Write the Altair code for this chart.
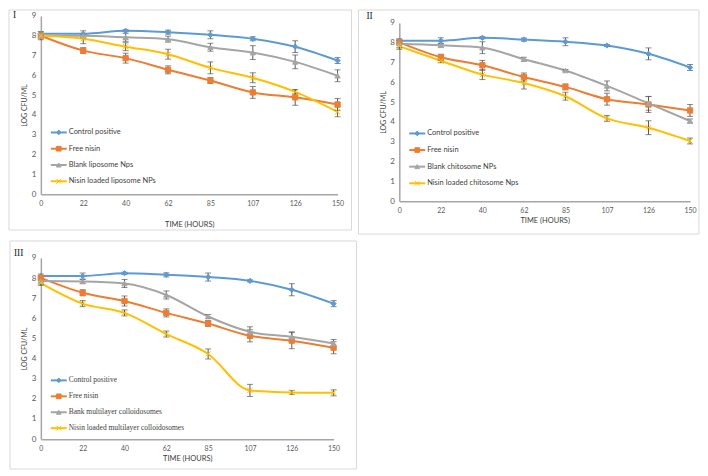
import altair as alt
import pandas as pd

HOURS = ["0", "22", "40", "62", "85", "107", "126", "150"]
KEYS = ["a", "b", "c", "d"]
COLORS = ["#5B9BD5", "#ED7D31", "#A5A5A5", "#FFC000"]
SHAPES = ["diamond", "square", "triangle-up", "M-1,-1L1,1M-1,1L1,-1"]

# Panel I
I_NAMES = ["Control positive", "Free nisin", "Blank liposome Nps", "Nisin loaded liposome NPs"]
I_CONTROL = [8.1, 8.1, 8.25, 8.18, 8.05, 7.85, 7.45, 6.75]
I_CONTROL_ERR = [0.1, 0.15, 0.05, 0.1, 0.2, 0.1, 0.3, 0.15]
I_FREE = [8.0, 7.25, 6.87, 6.28, 5.74, 5.14, 4.89, 4.53]
I_FREE_ERR = [0.1, 0.15, 0.25, 0.2, 0.15, 0.3, 0.4, 0.3]
I_BLANK = [8.0, 8.0, 7.92, 7.83, 7.42, 7.15, 6.68, 5.98]
I_BLANK_ERR = [0.2, 0.1, 0.2, 0.15, 0.2, 0.35, 0.35, 0.3]
I_LOADED = [8.0, 7.85, 7.45, 7.07, 6.38, 5.88, 5.17, 4.16]
I_LOADED_ERR = [0.1, 0.25, 0.2, 0.25, 0.3, 0.25, 0.1, 0.25]

# Panel II
II_NAMES = ["Control positive", "Free nisin", "Blank chitosome NPs", "Nisin loaded chitosome Nps"]
II_CONTROL = [8.1, 8.1, 8.25, 8.16, 8.05, 7.86, 7.44, 6.75]
II_CONTROL_ERR = [0.1, 0.15, 0.05, 0.08, 0.2, 0.05, 0.3, 0.15]
II_FREE = [8.02, 7.27, 6.86, 6.27, 5.77, 5.15, 4.88, 4.58]
II_FREE_ERR = [0.1, 0.15, 0.25, 0.2, 0.15, 0.3, 0.4, 0.3]
II_BLANK = [7.95, 7.87, 7.75, 7.17, 6.6, 5.82, 4.94, 4.05]
II_BLANK_ERR = [0.2, 0.1, 0.3, 0.1, 0.05, 0.25, 0.35, 0.1]
II_LOADED = [7.82, 7.09, 6.39, 5.97, 5.3, 4.18, 3.71, 3.04]
II_LOADED_ERR = [0.15, 0.1, 0.25, 0.3, 0.2, 0.15, 0.35, 0.15]

# Panel III
III_NAMES = ["Control positive", "Free nisin", "Bank multilayer colloidosomes", "Nisin loaded multilayer colloidosomes"]
III_CONTROL = [8.1, 8.1, 8.24, 8.16, 8.05, 7.86, 7.42, 6.73]
III_CONTROL_ERR = [0.1, 0.15, 0.05, 0.1, 0.2, 0.05, 0.3, 0.15]
III_FREE = [8.01, 7.27, 6.86, 6.27, 5.74, 5.13, 4.89, 4.54]
III_FREE_ERR = [0.1, 0.15, 0.25, 0.2, 0.15, 0.3, 0.4, 0.3]
III_BLANK = [7.85, 7.83, 7.73, 7.16, 6.09, 5.33, 5.08, 4.75]
III_BLANK_ERR = [0.2, 0.1, 0.2, 0.2, 0.1, 0.25, 0.25, 0.2]
III_LOADED = [7.75, 6.73, 6.27, 5.22, 4.23, 2.42, 2.32, 2.3]
III_LOADED_ERR = [0.1, 0.15, 0.15, 0.15, 0.25, 0.3, 0.1, 0.15]

SANS = "Lato"
SERIF = "Liberation Serif"
AXIS_GRAY = "#a6a6a6"
TEXT_GRAY = "#595959"
ERR_GRAY = "#595959"


def panel(numeral, names, vals, errs, L, T, W, H, R, B, top_pad, leg_top, leg_bottom,
          legend_font, xtitle_y, num_x, num_y):
    rows = []
    for k, name, v, e in zip(KEYS, names, vals, errs):
        for h, vv, ee in zip(HOURS, v, e):
            rows.append({"hour": h, "k": k, "name": name, "val": vv,
                         "lo": vv - ee, "hi": vv + ee})
    df = pd.DataFrame(rows)
    leg = pd.DataFrame({"k": KEYS, "name": names})
    VH = H + top_pad

    xenc = alt.X("hour:O", sort=HOURS,
                 scale=alt.Scale(type="point", domain=HOURS, padding=0),
                 axis=alt.Axis(labelAngle=0, ticks=False, domainColor=AXIS_GRAY,
                               domainWidth=1.5, labelColor=TEXT_GRAY, labelFont=SANS,
                               labelFontSize=7, labelPadding=5,
                               title="TIME (HOURS)", titleFont=SANS, titleFontSize=7.5,
                               titleFontWeight="normal", titleColor="#404040",
                               titleX=W / 2, titleY=xtitle_y, titleBaseline="middle",
                               titleAlign="center"))
    yscale = alt.Scale(domain=[0, 9], nice=False, zero=True, range=[VH, top_pad])
    yaxis = alt.Axis(values=list(range(10)), grid=False, ticks=False,
                     domainColor=AXIS_GRAY, domainWidth=1.5, labelColor=TEXT_GRAY,
                     labelFont=SANS, labelFontSize=8, labelPadding=5,
                     title="LOG CFU/ML", titleFont=SANS, titleFontSize=7,
                     titleFontWeight="normal", titleColor="#404040",
                     titleX=-16, titleY=top_pad + H / 2, titleBaseline="middle",
                     titleAlign="center", titleAngle=-90)

    def yenc(f):
        return alt.Y(f + ":Q", scale=yscale, axis=yaxis)

    cscale = alt.Scale(domain=KEYS, range=COLORS)
    sscale = alt.Scale(domain=KEYS, range=SHAPES)

    base = alt.Chart(df)
    frame = alt.Chart(pd.DataFrame({"v": [0]})).mark_rect(
        fillOpacity=0, stroke="#d9d9d9", strokeWidth=1).encode(
        x=alt.value(-L), x2=alt.value(W + R), y=alt.value(-T), y2=alt.value(VH + B))
    num = alt.Chart(pd.DataFrame({"t": [numeral]})).mark_text(
        font=SERIF, fontSize=9.5, align="left", baseline="middle", color="#222222").encode(
        text="t:N", x=alt.value(num_x), y=alt.value(num_y))
    lines = base.mark_line(interpolate="monotone", strokeWidth=2).encode(
        x=xenc, y=yenc("val"),
        color=alt.Color("k:N", scale=cscale, legend=None), detail="k:N")
    err = base.mark_rule(color=ERR_GRAY, strokeWidth=1).encode(
        x=xenc, y=yenc("lo"), y2="hi:Q")
    cap_lo = base.mark_tick(color=ERR_GRAY, size=6, thickness=1).encode(x=xenc, y=yenc("lo"))
    cap_hi = base.mark_tick(color=ERR_GRAY, size=6, thickness=1).encode(x=xenc, y=yenc("hi"))
    pts = base.mark_point(size=28, strokeWidth=1, opacity=1).encode(
        x=xenc, y=yenc("val"),
        shape=alt.Shape("k:N", scale=sscale, legend=None),
        fill=alt.Fill("k:N", scale=cscale, legend=None),
        stroke=alt.Stroke("k:N", scale=cscale, legend=None))
    main = alt.layer(frame, num, lines, err, cap_lo, cap_hi, pts)

    lscale = alt.Scale(type="point", domain=KEYS,
                       range=[leg_top + top_pad, leg_bottom + top_pad], padding=0)
    ly = alt.Y("k:N", scale=lscale, axis=None)
    lbase = alt.Chart(leg)
    lrule = lbase.mark_rule(strokeWidth=2).encode(
        y=ly, x=alt.value(10), x2=alt.value(26),
        color=alt.Color("k:N", scale=cscale, legend=None))
    lpt = lbase.mark_point(size=22, strokeWidth=1, opacity=1).encode(
        y=ly, x=alt.value(18),
        shape=alt.Shape("k:N", scale=sscale, legend=None),
        fill=alt.Fill("k:N", scale=cscale, legend=None),
        stroke=alt.Stroke("k:N", scale=cscale, legend=None))
    ltxt = lbase.mark_text(align="left", baseline="middle", font=legend_font,
                           fontSize=7.5, color="#404040").encode(
        y=ly, x=alt.value(28), text="name:N")
    legend = alt.layer(lrule, lpt, ltxt)

    return alt.layer(main, legend).resolve_scale(y="independent").properties(
        width=W, height=VH)


p1 = panel("I", I_NAMES, [I_CONTROL, I_FREE, I_BLANK, I_LOADED],
           [I_CONTROL_ERR, I_FREE_ERR, I_BLANK_ERR, I_LOADED_ERR],
           L=32, T=6, W=298, H=179, R=14, B=36, top_pad=0, leg_top=117, leg_bottom=166,
           legend_font=SANS, xtitle_y=30, num_x=-28, num_y=-1)
p2 = panel("II", II_NAMES, [II_CONTROL, II_FREE, II_BLANK, II_LOADED],
           [II_CONTROL_ERR, II_FREE_ERR, II_BLANK_ERR, II_LOADED_ERR],
           L=41, T=6, W=292, H=179, R=9, B=33, top_pad=7, leg_top=111, leg_bottom=161,
           legend_font=SANS, xtitle_y=19, num_x=-33, num_y=0)
p3 = panel("III", III_NAMES, [III_CONTROL, III_FREE, III_BLANK, III_LOADED],
           [III_CONTROL_ERR, III_FREE_ERR, III_BLANK_ERR, III_LOADED_ERR],
           L=31, T=17, W=294, H=182, R=23, B=30, top_pad=0, leg_top=123, leg_bottom=171,
           legend_font=SERIF, xtitle_y=19, num_x=-27, num_y=-5)

chart = alt.vconcat(
    alt.hconcat(p1, p2, spacing=5),
    p3,
    spacing=5,
).properties(padding=0, background="white").configure_view(stroke=None)

chart.save("out.html", embed_options={"renderer": "svg", "actions": False})
